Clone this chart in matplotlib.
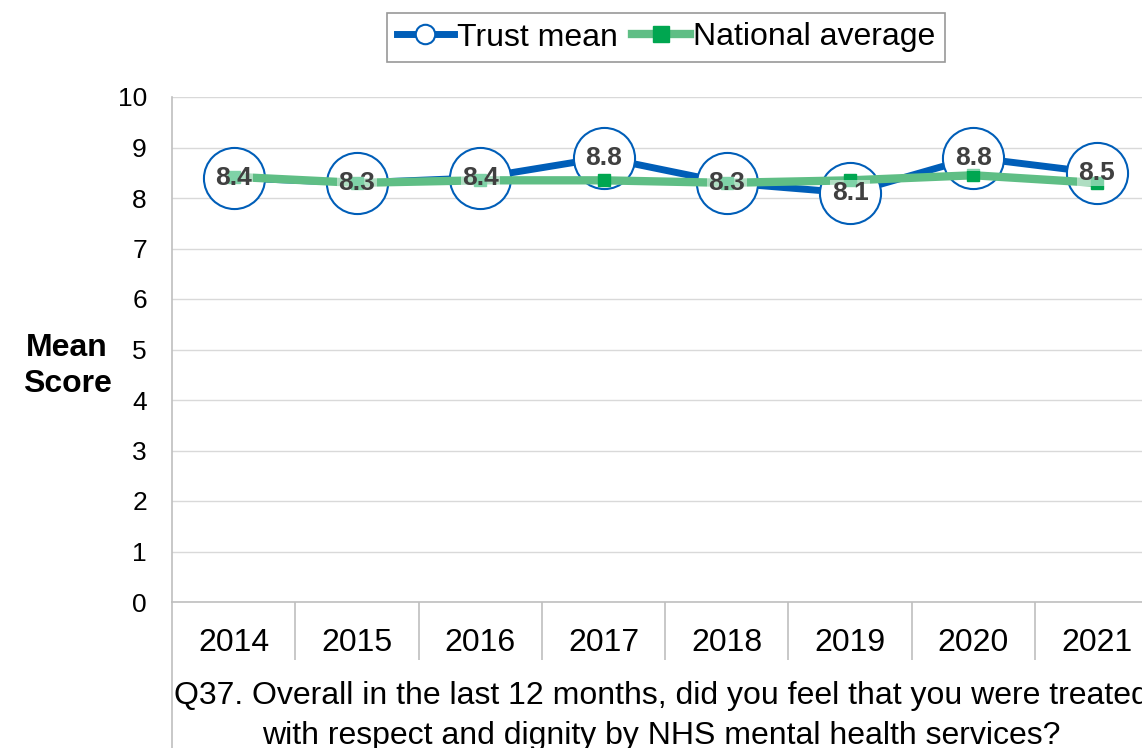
import matplotlib
matplotlib.use("Agg")
import matplotlib.pyplot as plt
from matplotlib.lines import Line2D
from matplotlib.ticker import FixedLocator, NullFormatter

plt.rcParams['font.family'] = ['Liberation Sans', 'DejaVu Sans']

years = ['2014', '2015', '2016', '2017', '2018', '2019', '2020', '2021']
trust_mean = [8.4, 8.3, 8.4, 8.8, 8.3, 8.1, 8.8, 8.5]
national_avg = [8.42, 8.3, 8.35, 8.35, 8.3, 8.35, 8.45, 8.3]
question = ("Q37. Overall in the last 12 months, did you feel that you were treated\n"
            "with respect and dignity by NHS mental health services?")

BLUE = '#005EB8'
GREEN_LINE = '#5FBE85'
GREEN_MARK = '#00A650'
LABEL_GREY = '#404040'
GRID = '#D9D9D9'
AXIS = '#BFBFBF'

W, H = 1142, 748
fig = plt.figure(figsize=(W / 100, H / 100), dpi=100)
left, right, top, bottom = 172, 1158.4, 97, 602
ax = fig.add_axes([left / W, 1 - bottom / H, (right - left) / W, (bottom - top) / H])

x = list(range(len(years)))
ax.plot(x, trust_mean, color=BLUE, lw=5, marker='o', ms=44, mfc='white',
        mec=BLUE, mew=1.5, zorder=3, solid_capstyle='butt')
ax.plot(x, national_avg, color=GREEN_LINE, lw=6, marker='s', ms=9,
        mfc=GREEN_MARK, mec=GREEN_MARK, zorder=4)

for xi, v in zip(x, trust_mean):
    ax.text(xi, v, f'{v:.1f}', ha='center', va='center', fontsize=19,
            fontweight='bold', color=LABEL_GREY, zorder=5,
            bbox=dict(boxstyle='square,pad=0.05', fc='white', ec='none', alpha=0.5))

ax.set_xlim(-0.5, len(years) - 0.5)
ax.set_ylim(0, 10)
ax.set_yticks(range(0, 11))
ax.yaxis.grid(True, color=GRID, lw=1)
ax.set_axisbelow(True)
ax.tick_params(axis='y', length=0, pad=18, labelsize=19)

ax.set_xticks(x)
ax.set_xticklabels(years)
ax.xaxis.set_minor_locator(FixedLocator([i + 0.5 for i in range(len(years) - 1)]))
ax.xaxis.set_minor_formatter(NullFormatter())
ax.tick_params(axis='x', which='major', length=0, pad=19, labelsize=23)
ax.tick_params(axis='x', which='minor', length=42, width=1.2, color=AXIS)

for s in ['top', 'right']:
    ax.spines[s].set_visible(False)
ax.spines['bottom'].set_color(AXIS)
ax.spines['bottom'].set_linewidth(1.2)
ax.spines['left'].set_color(AXIS)
ax.spines['left'].set_linewidth(1.2)

# left border continues down past the category labels
fig.add_artist(Line2D([left / W, left / W], [0, 1 - bottom / H], color=AXIS, lw=1.2))

fig.text(661 / W, 1 - 716 / H, question, ha='center', va='center', fontsize=23,
         linespacing=1.45)
fig.text(67 / W, 1 - 366 / H, 'Mean\nScore', ha='center', va='center', fontsize=23,
         fontweight='bold', linespacing=1.25)

handles = [
    Line2D([], [], color=BLUE, lw=5, marker='o', ms=14, mfc='white', mec=BLUE, mew=1.5),
    Line2D([], [], color=GREEN_LINE, lw=6, marker='s', ms=11, mfc=GREEN_MARK, mec=GREEN_MARK),
]
leg = fig.legend(handles, ['Trust mean', 'National average'], loc='center',
                 bbox_to_anchor=(666 / W, 1 - 37.5 / H), ncol=2, fontsize=23,
                 frameon=True, fancybox=False, handlelength=1.8, handletextpad=0.1,
                 columnspacing=0.45, borderpad=0.3, borderaxespad=0)
leg.get_frame().set_edgecolor('#7F7F7F')
leg.get_frame().set_linewidth(1.2)

fig.savefig('out.png', dpi=100)
